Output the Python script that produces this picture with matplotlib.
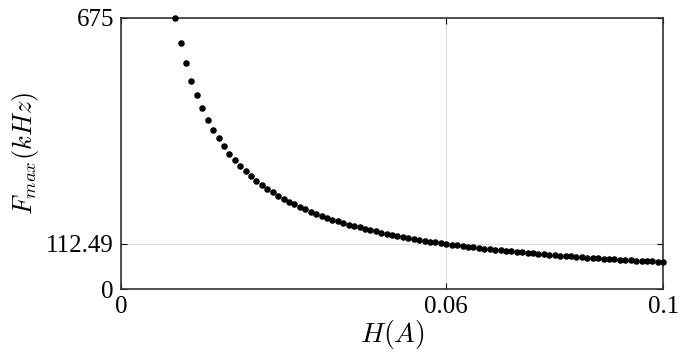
import matplotlib.pyplot as plt

# H(A) 与 F_max(kHz) 的采样点
h_values = [0.010, 0.011, 0.012, 0.013, 0.014, 0.015, 0.016, 0.017, 0.018, 0.019,
            0.020, 0.021, 0.022, 0.023, 0.024, 0.025, 0.026, 0.027, 0.028, 0.029,
            0.030, 0.031, 0.032, 0.033, 0.034, 0.035, 0.036, 0.037, 0.038, 0.039,
            0.040, 0.041, 0.042, 0.043, 0.044, 0.045, 0.046, 0.047, 0.048, 0.049,
            0.050, 0.051, 0.052, 0.053, 0.054, 0.055, 0.056, 0.057, 0.058, 0.059,
            0.060, 0.061, 0.062, 0.063, 0.064, 0.065, 0.066, 0.067, 0.068, 0.069,
            0.070, 0.071, 0.072, 0.073, 0.074, 0.075, 0.076, 0.077, 0.078, 0.079,
            0.080, 0.081, 0.082, 0.083, 0.084, 0.085, 0.086, 0.087, 0.088, 0.089,
            0.090, 0.091, 0.092, 0.093, 0.094, 0.095, 0.096, 0.097, 0.098, 0.099,
            0.100]
f_values = [675.00, 613.64, 562.50, 519.23, 482.14, 450.00, 421.88, 397.06, 375.00, 355.26,
            337.50, 321.43, 306.82, 293.48, 281.25, 270.00, 259.62, 250.00, 241.07, 232.76,
            225.00, 217.74, 210.94, 204.55, 198.53, 192.86, 187.50, 182.43, 177.63, 173.08,
            168.75, 164.63, 160.71, 156.98, 153.41, 150.00, 146.74, 143.62, 140.63, 137.76,
            135.00, 132.35, 129.81, 127.36, 125.00, 122.73, 120.54, 118.42, 116.38, 114.41,
            112.50, 110.66, 108.87, 107.14, 105.47, 103.85, 102.27, 100.75, 99.26, 97.83,
            96.43, 95.07, 93.75, 92.47, 91.22, 90.00, 88.82, 87.66, 86.54, 85.44,
            84.38, 83.33, 82.32, 81.33, 80.36, 79.41, 78.49, 77.59, 76.70, 75.84,
            75.00, 74.18, 73.37, 72.58, 71.81, 71.05, 70.31, 69.59, 68.88, 68.18,
            67.50]

x_ticks = [0, 0.06, 0.1]
x_tick_labels = ['0', '0.06', '0.1']
y_ticks = [0, 112.49, 675]
y_tick_labels = ['0', '112.49', '675']

plt.rcParams['font.family'] = ['Liberation Serif', 'DejaVu Serif']
plt.rcParams['mathtext.fontset'] = 'cm'

fig = plt.figure(figsize=(6.83, 3.6), dpi=100)
ax = fig.add_axes([0.177, 0.197, 0.794, 0.753])

ax.plot(h_values, f_values, 'o', color='black', markersize=3.7, clip_on=False, zorder=3)

ax.set_xlim(0, 0.1)
ax.set_ylim(0, 675)
ax.set_xticks(x_ticks)
ax.set_xticklabels(x_tick_labels)
ax.set_yticks(y_ticks)
ax.set_yticklabels(y_tick_labels)
ax.tick_params(direction='in', length=4, width=0.8, labelsize=18,
               top=True, right=True, pad=5)
ax.grid(True, color='#dddddd', linewidth=0.8)
for sp in ax.spines.values():
    sp.set_linewidth(1.2)
    sp.set_color('#333333')

ax.set_xlabel('$H(A)$', fontsize=20, labelpad=0)
ax.set_ylabel('$F_{max}(kHz)$', fontsize=19, labelpad=4)

fig.savefig('out.png', dpi=100)
